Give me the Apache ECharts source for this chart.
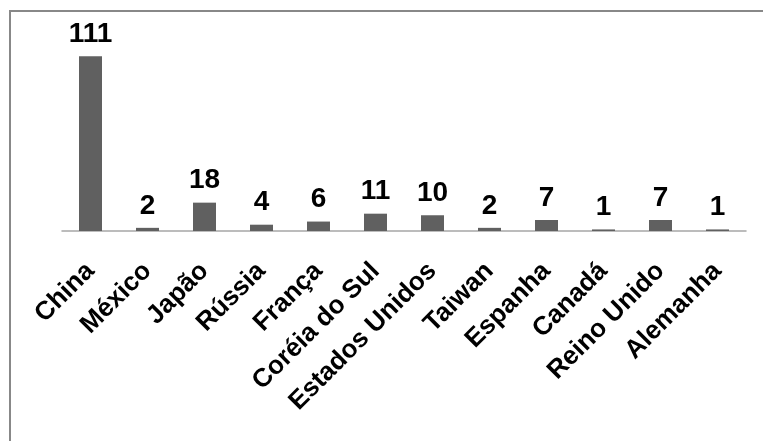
<!DOCTYPE html>
<html>
<head>
<meta charset="utf-8">
<script src="https://cdn.jsdelivr.net/npm/echarts@6/dist/echarts.min.js"></script>
<style>
  html, body { margin: 0; padding: 0; background: #fff; }
  #chart { width: 763px; height: 441px; }
</style>
</head>
<body>
<div id="chart"></div>
<script>
// Countries and their counts
const countries = ['China', 'México', 'Japão', 'Rússia', 'França', 'Coréia do Sul',
  'Estados Unidos', 'Taiwan', 'Espanha', 'Canadá', 'Reino Unido', 'Alemanha'];
const counts = [111, 2, 18, 4, 6, 11, 10, 2, 7, 1, 7, 1];

const chart = echarts.init(document.getElementById('chart'), null, { renderer: 'canvas' });

chart.setOption({
  animation: false,
  backgroundColor: '#ffffff',
  textStyle: { fontFamily: 'Liberation Sans, Arial, sans-serif' },
  graphic: [{
    type: 'rect',
    shape: { x: 10, y: 11, width: 900, height: 600 },
    style: { fill: 'none', stroke: '#888888', lineWidth: 2 },
    silent: true
  }],
  grid: { left: 62, right: 17, top: 42, bottom: 210, containLabel: false },
  xAxis: {
    type: 'category',
    data: countries,
    axisLine: { show: true, lineStyle: { color: '#a6a6a6', width: 1.5 } },
    axisTick: { show: false },
    axisLabel: {
      interval: 0,
      rotate: 45,
      margin: 36,
      color: '#000',
      fontWeight: 'bold',
      fontSize: 26,
      fontFamily: 'Liberation Sans, Arial, sans-serif'
    }
  },
  yAxis: {
    type: 'value',
    min: 0,
    max: 120,
    show: false,
    splitLine: { show: false }
  },
  series: [{
    type: 'bar',
    data: counts,
    barWidth: 23,
    itemStyle: { color: '#606060' },
    label: {
      show: true,
      position: 'top',
      distance: 8,
      color: '#000',
      fontWeight: 'bold',
      fontSize: 28,
      fontFamily: 'Liberation Sans, Arial, sans-serif'
    }
  }]
});
</script>
</body>
</html>
